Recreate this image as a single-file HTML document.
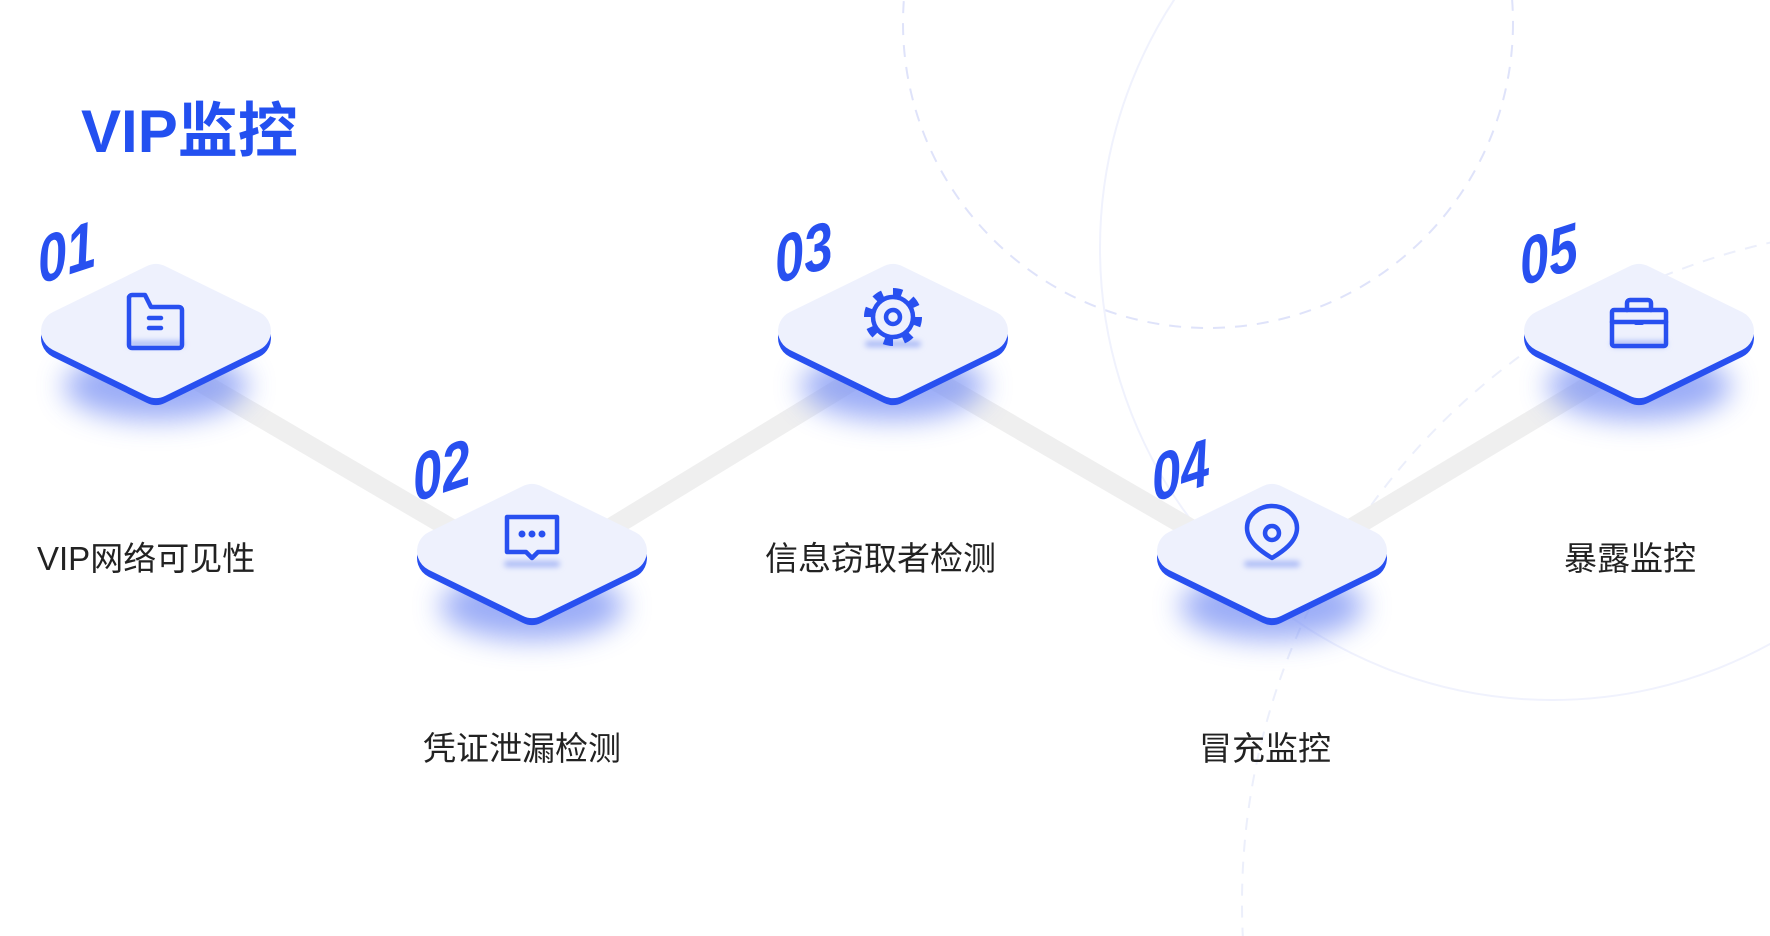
<!DOCTYPE html>
<html><head><meta charset="utf-8"><style>
html,body{margin:0;padding:0;background:#fff;width:1770px;height:936px;overflow:hidden}
svg{display:block}
.lbl{font-family:"Liberation Sans","Noto Sans CJK SC",sans-serif;font-size:33px;fill:#222}
.num{font-family:"Liberation Sans",sans-serif;font-size:64px;font-weight:bold;font-style:italic;fill:#2850f0}
</style></head><body>
<svg width="1770" height="936" viewBox="0 0 1770 936" xmlns="http://www.w3.org/2000/svg">
<defs>
<filter id="bl" x="-50%" y="-80%" width="200%" height="260%"><feGaussianBlur stdDeviation="14"/></filter>
<filter id="bs" x="-50%" y="-200%" width="200%" height="500%"><feGaussianBlur stdDeviation="3"/></filter>
<g id="dia">
<ellipse cx="0" cy="55" rx="92" ry="34" fill="#7a92f4" opacity="0.75" filter="url(#bl)"/>
<polygon points="0,-46 94,0 0,46 -94,0" transform="translate(0,7)" fill="#2850f0" stroke="#2850f0" stroke-width="42" stroke-linejoin="round"/>
<polygon points="0,-46 94,0 0,46 -94,0" fill="#eef1fd" stroke="#eef1fd" stroke-width="42" stroke-linejoin="round"/>
<rect x="-28" y="10" width="56" height="6" rx="3" fill="#a8b8f6" filter="url(#bs)"/>
</g>
</defs>
<!-- background circles -->
<circle cx="1208" cy="23" r="305" fill="none" stroke="#dfe3fa" stroke-width="2" stroke-dasharray="12 10"/>
<circle cx="1552" cy="248" r="452" fill="none" stroke="#f0f2fd" stroke-width="2"/>
<circle cx="1919" cy="903" r="677" fill="none" stroke="#eceffb" stroke-width="2" stroke-dasharray="12 10"/>
<!-- connectors -->
<polyline points="156,356 532,576 893,356 1272,576 1639,356" fill="none" stroke="#efefef" stroke-width="20" stroke-linejoin="round"/>
<!-- diamonds -->
<use href="#dia" x="156" y="331"/>
<use href="#dia" x="532" y="551"/>
<use href="#dia" x="893" y="331"/>
<use href="#dia" x="1272" y="551"/>
<use href="#dia" x="1639" y="331"/>
<!-- icons -->
<g fill="none" stroke="#2850f0" stroke-width="4.5" stroke-linejoin="round" stroke-linecap="round">
<path d="M129,297 v48 a3,3 0 0 0 3,3 h47 a3,3 0 0 0 3,-3 v-35 a3,3 0 0 0 -3,-3 h-28 l-6,-12 h-13 a3,3 0 0 0 -3,3 z"/>
<path d="M149,318 h12 M149,328 h12"/>
<path d="M507,517 h50 v35 h-19 l-6,6 l-6,-6 h-19 z"/>
<circle cx="893" cy="317" r="20"/>
<circle cx="893" cy="317" r="25" stroke-width="8" stroke-dasharray="9 10.6" stroke-linecap="butt"/>
<circle cx="893" cy="317" r="7"/>
<path d="M1272,558 c-10,-6 -25,-16 -25,-30 a25,22 0 0 1 50,0 c0,14 -15,24 -25,30 z"/>
<circle cx="1272" cy="533" r="7"/>
<rect x="1612" y="310" width="54" height="36" rx="2"/>
<path d="M1627,310 v-7 a3,3 0 0 1 3,-3 h18 a3,3 0 0 1 3,3 v7 M1612,322 h54"/>
</g>
<g fill="#2850f0">
<circle cx="522" cy="534" r="3.5"/><circle cx="532" cy="534" r="3.5"/><circle cx="542" cy="534" r="3.5"/>
<rect x="1634" y="321" width="10" height="4" rx="2"/>
</g>
<!-- numbers -->
<text class="num" transform="translate(40,284) rotate(-18) skewX(-12) scale(0.85,1)">01</text>
<text class="num" transform="translate(415,502) rotate(-18) skewX(-12) scale(0.85,1)">02</text>
<text class="num" transform="translate(777,284) rotate(-18) skewX(-12) scale(0.85,1)">03</text>
<text class="num" transform="translate(1154,502) rotate(-18) skewX(-12) scale(0.85,1)">04</text>
<text class="num" transform="translate(1522,286) rotate(-18) skewX(-12) scale(0.85,1)">05</text>
<!-- title -->
<text x="81" y="152" style="font-family:'Liberation Sans','Noto Sans CJK SC',sans-serif;font-size:60px;font-weight:bold;fill:#2350f0">VIP监控</text>
<!-- labels -->
<text class="lbl" x="37" y="570">VIP网络可见性</text>
<text class="lbl" x="423" y="760">凭证泄漏检测</text>
<text class="lbl" x="765" y="570">信息窃取者检测</text>
<text class="lbl" x="1199" y="760">冒充监控</text>
<text class="lbl" x="1564" y="570">暴露监控</text>
</svg>
</body></html>
